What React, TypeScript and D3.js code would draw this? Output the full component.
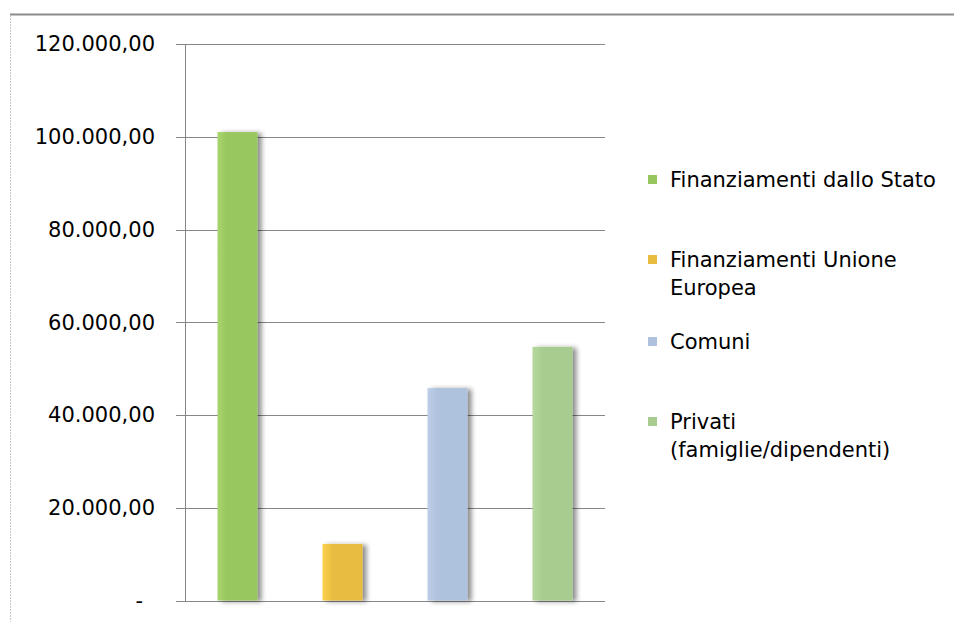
import React from "react";
import * as d3 from "d3";

const categories = [
  "Finanziamenti dallo Stato",
  "Finanziamenti Unione Europea",
  "Comuni",
  "Privati (famiglie/dipendenti)",
];
const values = [101000, 12200, 45800, 54700];
const yTicks = [0, 20000, 40000, 60000, 80000, 100000, 120000];
const tickLabels = ["-", "20.000,00", "40.000,00", "60.000,00", "80.000,00", "100.000,00", "120.000,00"];
const legendLines = [
  ["Finanziamenti dallo Stato"],
  ["Finanziamenti Unione", "Europea"],
  ["Comuni"],
  ["Privati", "(famiglie/dipendenti)"],
];
const colors = ["#98C65E", "#E8BC3F", "#AFC2DD", "#A8CC90"];
const lightColors = ["#A8D56C", "#FDD24F", "#BDCEE7", "#B5D89F"];

const W = 954;
const H = 622;
const FONT = "'DejaVu Sans', sans-serif";

export default function App() {
  const y = d3.scaleLinear().domain([0, 120000]).range([600.5, 44]);
  const x = d3
    .scaleBand<string>()
    .domain(categories)
    .range([185, 605])
    .paddingInner(0.619)
    .paddingOuter(0.3095);

  const legendY = [187, 267, 349, 429];

  return (
    <svg
      width={W}
      height={H}
      style={{ position: "absolute", left: 0, top: 0, background: "#fff" }}
    >
      <defs>
        <filter id="shadow" x="-30%" y="-10%" width="180%" height="120%">
          <feDropShadow dx="4" dy="1" stdDeviation="2.5" floodColor="#000" floodOpacity="0.45" />
        </filter>
        {colors.map((c, i) => (
          <linearGradient key={i} id={`g${i}`} x1="0" x2="1" y1="0" y2="0">
            <stop offset="0" stopColor={lightColors[i]} />
            <stop offset="0.25" stopColor={c} />
            <stop offset="1" stopColor={c} />
          </linearGradient>
        ))}
      </defs>
      {/* frame */}
      <line x1={10} x2={W} y1={14.5} y2={14.5} stroke="#8c8c8c" strokeWidth={2} />
      <line x1={10.5} x2={10.5} y1={15} y2={H} stroke="#c8c8c8" strokeWidth={1} strokeDasharray="2,1" />

      {/* gridlines */}
      {yTicks.map((t, i) => (
        <line
          key={i}
          x1={176}
          x2={605}
          y1={Math.round(y(t)) + 0.5}
          y2={Math.round(y(t)) + 0.5}
          stroke="#868686"
          strokeWidth={1}
        />
      ))}
      <line x1={185.5} x2={185.5} y1={44} y2={601} stroke="#868686" strokeWidth={1} />

      {/* tick labels */}
      {yTicks.map((t, i) => (
        <text
          key={i}
          x={i === 0 ? 143 : 155}
          y={y(t)}
          dy="0.35em"
          textAnchor="end"
          fontFamily={FONT}
          fontSize={21}
          fill="#000"
        >
          {tickLabels[i]}
        </text>
      ))}

      {/* bars */}
      {categories.map((c, i) => (
        <rect
          key={c}
          x={x(c)}
          y={y(values[i])}
          width={x.bandwidth()}
          height={y(0) - y(values[i])}
          fill={`url(#g${i})`}
          filter="url(#shadow)"
        />
      ))}

      {/* legend */}
      {legendLines.map((lines, i) => (
        <g key={i}>
          <rect x={648} y={legendY[i] - 12} width={9} height={9} fill={colors[i]} />
          {lines.map((l, j) => (
            <text
              key={j}
              x={670}
              y={legendY[i] + j * 28}
              fontFamily={FONT}
              fontSize={21}
              fill="#000"
            >
              {l}
            </text>
          ))}
        </g>
      ))}
    </svg>
  );
}
